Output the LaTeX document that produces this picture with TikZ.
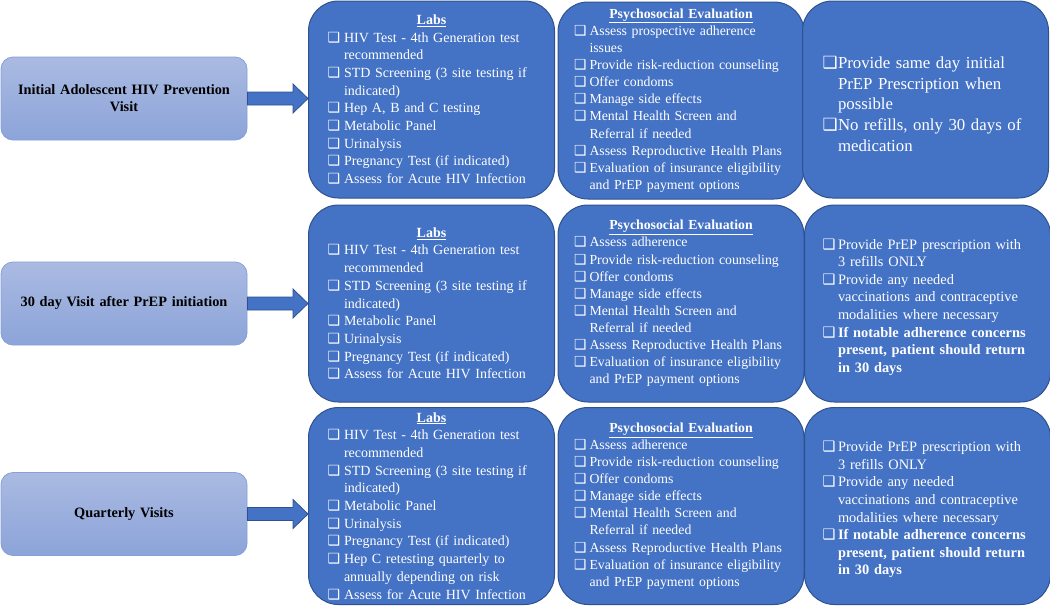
\documentclass[tikz,border=0pt]{standalone}
\usepackage{fontspec}
\setmainfont{Liberation Serif}
\newfontfamily\boxfont{DejaVu Sans}
\usepackage{tikz}
\usetikzlibrary{calc}
\usepackage{xcolor}
\definecolor{cardblue}{RGB}{68,114,196}
\definecolor{cardedge}{RGB}{47,82,143}
\definecolor{visittop}{RGB}{170,186,226}
\definecolor{visitbottom}{RGB}{140,164,217}
\definecolor{visitedge}{RGB}{132,160,214}

\newlength{\chkindent}
\setlength{\chkindent}{15.5pt}
\newcommand{\chk}[1]{\par\hangindent=\chkindent\hangafter=1\noindent
  \makebox[\chkindent][l]{{\boxfont\scalebox{1.0}{❑}}}#1\par}
\newcommand{\cardtitle}[1]{{\centering\bfseries\underline{#1}\par}}
\newcommand{\wideindent}{\setlength{\chkindent}{16.5pt}}
\newcommand{\visitarrow}[2]{%
  \coordinate (#1tip) at (#1.east -| #2.west);
  \draw[arrowbody] ($(#1.east)+(0,-6.5)$) -- ($(#1tip)+(-15,-6.5)$)
    -- ($(#1tip)+(-15,-14.5)$) -- (#1tip) -- ($(#1tip)+(-15,14.5)$)
    -- ($(#1tip)+(-15,6.5)$) -- ($(#1.east)+(0,6.5)$) -- cycle;}

\begin{document}
\begin{tikzpicture}[x=1pt,y=-1pt,
    visitbox/.style={rectangle,rounded corners=12pt,draw=visitedge,line width=0.8pt,
      top color=visittop,bottom color=visitbottom,minimum width=246pt,minimum height=83pt,
      text width=236pt,align=center,inner sep=0pt,font=\bfseries\fontsize{14.3}{17}\selectfont},
    card/.style={rectangle,rounded corners=30pt,draw=cardedge,line width=1pt,fill=cardblue,
      text=white,minimum width=246pt,minimum height=197pt,inner sep=0pt,align=left},
    labs/.style={card,text width=208pt,font=\fontsize{14}{17.7}\selectfont,
      execute at begin node=\wideindent},
    psych/.style={card,text width=214pt,font=\fontsize{13.8}{17.1}\selectfont},
    rx/.style={card,text width=210pt,font=\fontsize{14.4}{17.6}\selectfont},
    arrowbody/.style={draw=cardedge,line width=0.8pt,fill=cardblue}]
  \useasboundingbox (0,0) rectangle (1050,606);

  % visits
  \node[visitbox] (visitA) at (124,98.5) {Initial Adolescent HIV Prevention\\Visit};
  \node[visitbox] (visitB) at (124,303.5) {30 day Visit after PrEP initiation};
  \node[visitbox] (visitC) at (124,514) {Quarterly Visits};

  % first visit
  \node[labs] (labsA) at (431.5,99.5) {%
    \cardtitle{Labs}
    \chk{HIV Test - 4th Generation test\newline recommended}
    \chk{STD Screening (3 site testing if\newline indicated)}
    \chk{Hep A, B and C testing}
    \chk{Metabolic Panel}
    \chk{Urinalysis}
    \chk{Pregnancy Test (if indicated)}
    \chk{Assess for Acute HIV Infection}};
  \node[psych] (psychA) at (681,100.5) {%
    \cardtitle{Psychosocial Evaluation}
    \chk{Assess prospective adherence\newline issues}
    \chk{Provide risk-reduction counseling}
    \chk{Offer condoms}
    \chk{Manage side effects}
    \chk{Mental Health Screen and\newline Referral if needed}
    \chk{Assess Reproductive Health Plans}
    \chk{Evaluation of insurance eligibility\newline and PrEP payment options}};
  \node[rx,text width=206pt,font=\fontsize{16.8}{20.7}\selectfont] (rxA) at (925.5,99.5) {%
    \chk{Provide same day initial\newline PrEP Prescription when\newline possible}
    \chk{No refills, only 30 days of\newline medication}};

  % 30 day visit
  \node[labs] (labsB) at (431.5,303.5) {%
    \cardtitle{Labs}
    \chk{HIV Test - 4th Generation test\newline recommended}
    \chk{STD Screening (3 site testing if\newline indicated)}
    \chk{Metabolic Panel}
    \chk{Urinalysis}
    \chk{Pregnancy Test (if indicated)}
    \chk{Assess for Acute HIV Infection}};
  \node[psych] (psychB) at (681,303.5) {%
    \cardtitle{Psychosocial Evaluation}
    \chk{Assess adherence}
    \chk{Provide risk-reduction counseling}
    \chk{Offer condoms}
    \chk{Manage side effects}
    \chk{Mental Health Screen and\newline Referral if needed}
    \chk{Assess Reproductive Health Plans}
    \chk{Evaluation of insurance eligibility\newline and PrEP payment options}};
  \node[rx] (rxB) at (927.5,303.5) {%
    \chk{Provide PrEP prescription with\newline 3 refills ONLY}
    \chk{Provide any needed\newline vaccinations and contraceptive\newline modalities where necessary}
    \chk{\textbf{If notable adherence concerns\newline present, patient should return\newline in 30 days}}};

  % quarterly
  \node[labs] (labsC) at (431.5,506) {%
    \cardtitle{Labs}
    \chk{HIV Test - 4th Generation test\newline recommended}
    \chk{STD Screening (3 site testing if\newline indicated)}
    \chk{Metabolic Panel}
    \chk{Urinalysis}
    \chk{Pregnancy Test (if indicated)}
    \chk{Hep C retesting quarterly to\newline annually depending on risk}
    \chk{Assess for Acute HIV Infection}};
  \node[psych] (psychC) at (681,506) {%
    \cardtitle{Psychosocial Evaluation}
    \chk{Assess adherence}
    \chk{Provide risk-reduction counseling}
    \chk{Offer condoms}
    \chk{Manage side effects}
    \chk{Mental Health Screen and\newline Referral if needed}
    \chk{Assess Reproductive Health Plans}
    \chk{Evaluation of insurance eligibility\newline and PrEP payment options}};
  \node[rx] (rxC) at (927.5,506) {%
    \chk{Provide PrEP prescription with\newline 3 refills ONLY}
    \chk{Provide any needed\newline vaccinations and contraceptive\newline modalities where necessary}
    \chk{\textbf{If notable adherence concerns\newline present, patient should return\newline in 30 days}}};

  % arrows
  \visitarrow{visitA}{labsA}
  \visitarrow{visitB}{labsB}
  \visitarrow{visitC}{labsC}
\end{tikzpicture}
\end{document}
